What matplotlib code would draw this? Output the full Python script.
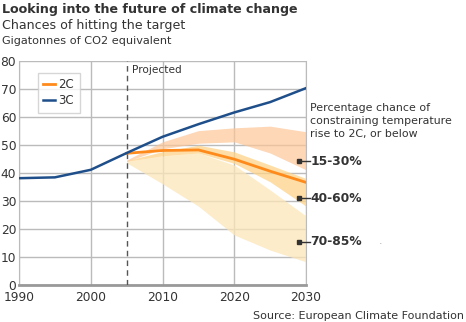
import matplotlib.pyplot as plt

# Historical / projected emissions (Gt CO2e)
years_3c = [1990, 1995, 2000, 2005, 2010, 2015, 2020, 2025, 2030]
vals_3c = [38, 38.3, 41, 47, 52.8, 57.3, 61.5, 65.2, 70.2]

years_2c = [2005, 2010, 2015, 2020, 2025, 2030]
vals_2c = [46.9, 47.9, 48.1, 44.8, 40.5, 36.5]

# Bands: percentage chance of keeping rise to 2C
band_years = [2005, 2010, 2015, 2020, 2025, 2030]
band_15_30_hi = [44.5, 51, 55, 56, 56.6, 54.6]
band_15_30_lo = [44, 48.5, 50.5, 51, 47, 41]
band_40_60_hi = [44.3, 47.5, 49.8, 47.4, 42.7, 37.9]
band_40_60_lo = [44, 46, 47, 43.3, 36.7, 28]
band_70_85_hi = [44, 46, 47, 42.7, 33.8, 24.5]
band_70_85_lo = [43.5, 36, 28, 17.7, 12.3, 8.1]

band_labels = ['15-30%', '40-60%', '70-85%']
label_vals = [44.1, 30.8, 15.3]

txt = '#333333'
grid = '#bbbbbb'

fig = plt.figure(figsize=(4.66, 3.22), dpi=100)
ax = fig.add_axes([19 / 466, 1 - 284.5 / 322, 287 / 466, 223.8 / 322])

ax.fill_between(band_years, band_70_85_lo, band_70_85_hi, color='#fde6b8', alpha=0.75, lw=0, zorder=2)
ax.fill_between(band_years, band_40_60_lo, band_40_60_hi, color='#fed488', alpha=0.75, lw=0, zorder=2)
ax.fill_between(band_years, band_15_30_lo, band_15_30_hi, color='#fdc698', alpha=0.7, lw=0, zorder=2)

ax.plot(years_2c, vals_2c, color='#ff8a1c', lw=2, label='2C', zorder=4)
ax.plot(years_3c, vals_3c, color='#1f4f8a', lw=1.8, label='3C', zorder=4)

ax.axvline(2005, color='#555555', lw=1, ls=(0, (4, 3)), zorder=3)
ax.text(2005.8, 76.8, 'Projected', fontsize=7.6, color=txt, va='center')

ax.set_xlim(1990, 2030)
ax.set_ylim(0, 80)
ax.set_xticks([1990, 2000, 2010, 2020, 2030])
ax.set_yticks(range(0, 81, 10))
ax.grid(True, color=grid, lw=1, zorder=0)
ax.set_axisbelow(True)
ax.spines['top'].set_visible(False)
ax.spines['left'].set_color(grid)
ax.spines['right'].set_color(grid)
ax.spines['bottom'].set_color('#999999')
ax.spines['bottom'].set_linewidth(2)
ax.tick_params(length=0, labelsize=8.8, colors=txt, pad=2)
ax.tick_params(axis='x', pad=5)

leg = ax.legend(loc='upper left', bbox_to_anchor=(13 / 287, 1 - 6 / 223.8), fontsize=8.5,
                frameon=True, fancybox=False, handlelength=1.0, handletextpad=0.3,
                borderpad=0.45, labelspacing=0.3, labelcolor=txt)
leg.get_frame().set_edgecolor('#cccccc')
leg.get_frame().set_linewidth(1)

# right-hand band labels
for lab, v in zip(band_labels, label_vals):
    ax.plot([2029, 2030.5], [v, v], color='#333333', lw=1, clip_on=False, zorder=5)
    ax.plot([2029], [v], marker='s', ms=2.5, color='#333333', clip_on=False, zorder=5)
    ax.text(2030.6, v, lab, fontsize=8.8, fontweight='bold', color=txt, va='center')

fig.text(310 / 466, 1 - 103 / 322, 'Percentage chance of\nconstraining temperature\nrise to 2C, or below',
         fontsize=7.9, color=txt, va='top', linespacing=1.4)
fig.text(379 / 466, 1 - 242 / 322, '.', fontsize=4, color=txt, va='center')

fig.text(2 / 466, 1 - 10 / 322, 'Looking into the future of climate change', fontsize=9.1,
         fontweight='bold', color=txt, va='center')
fig.text(2 / 466, 1 - 25 / 322, 'Chances of hitting the target', fontsize=9.1, color=txt, va='center')
fig.text(2 / 466, 1 - 40.5 / 322, 'Gigatonnes of CO2 equivalent', fontsize=8.15, color=txt, va='center')
fig.text(464 / 466, 1 - 316 / 322, 'Source: European Climate Foundation', fontsize=8,
         color=txt, va='center', ha='right')

fig.savefig('out.png', dpi=100)
